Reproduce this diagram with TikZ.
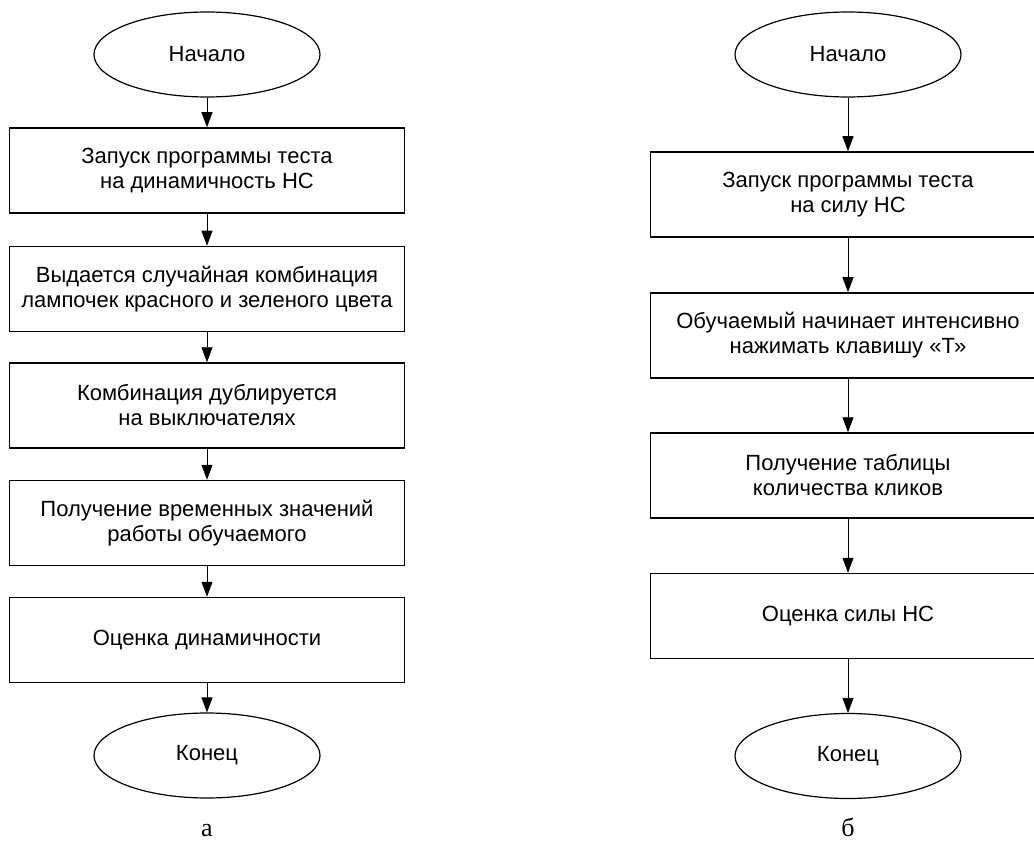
\documentclass[tikz,border=0pt]{standalone}
\usepackage{fontspec}
\setmainfont{Liberation Sans}
\newfontfamily\capserif{Liberation Serif}
\usetikzlibrary{arrows.meta,shapes.geometric}
\begin{document}
\begin{tikzpicture}[x=1pt,y=-1pt,
  procbox/.style={draw, line width=1.5pt, minimum width=395pt, minimum height=85pt, align=center, inner sep=0pt, font=\fontsize{22}{25}\selectfont},
  term/.style={draw, ellipse, line width=1.2pt, minimum width=226pt, minimum height=85pt, inner sep=0pt, font=\fontsize{22}{25}\selectfont},
  flow/.style={line width=0.8pt, -{Triangle[length=15pt,width=11pt]}},
  caption/.style={font=\capserif\fontsize{26}{30}\selectfont, anchor=base}]
\useasboundingbox (0,0) rectangle (1034,845);
% left chart
\node[term] (La) at (207,54.5) {Начало};
\node[procbox] (L1) at (207,170.5) {Запуск программы теста\\на динамичность НС};
\node[procbox] (L2) at (207,289) {Выдается случайная комбинация\\лампочек красного и зеленого цвета};
\node[procbox] (L3) at (207,405.5) {Комбинация дублируется\\на выключателях};
\node[procbox] (L4) at (207,523) {Получение временных значений\\работы обучаемого};
\node[procbox] (L5) at (207,640) {Оценка динамичности};
\node[term] (Lz) at (207,755.5) {Конец};
\draw[flow] (La.south) -- (L1.north);
\draw[flow] (L1.south) -- (L2.north);
\draw[flow] (L2.south) -- (L3.north);
\draw[flow] (L3.south) -- (L4.north);
\draw[flow] (L4.south) -- (L5.north);
\draw[flow] (L5.south) -- (Lz.north);
\node[caption] (capa) at (207,836) {а};
% right chart
\node[term] (Ra) at (848,54.5) {Начало};
\node[procbox] (R1) at (848,194.5) {Запуск программы теста\\на силу НС};
\node[procbox] (R2) at (848,335.5) {Обучаемый начинает интенсивно\\нажимать клавишу «Т»};
\node[procbox] (R3) at (848,475.5) {Получение таблицы\\количества кликов};
\node[procbox] (R4) at (848,616) {Оценка силы НС};
\node[term] (Rz) at (848,756) {Конец};
\draw[flow] (Ra.south) -- (R1.north);
\draw[flow] (R1.south) -- (R2.north);
\draw[flow] (R2.south) -- (R3.north);
\draw[flow] (R3.south) -- (R4.north);
\draw[flow] (R4.south) -- (Rz.north);
\node[caption] (capb) at (848,836) {б};
\end{tikzpicture}
\end{document}
